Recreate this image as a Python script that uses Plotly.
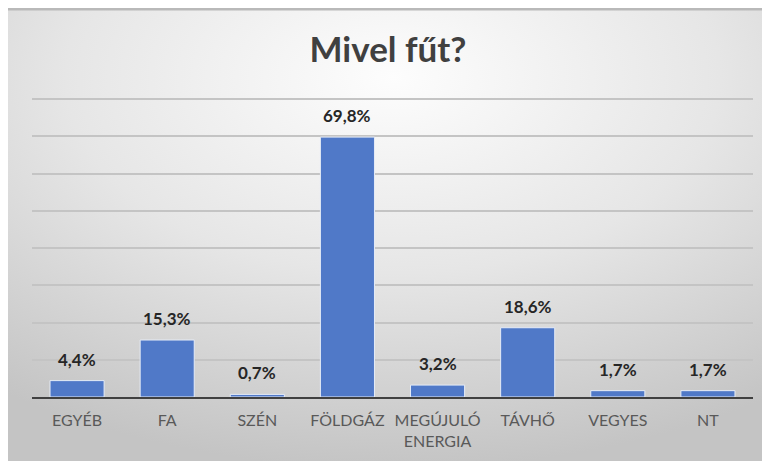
"""Mivel fűt? — heating source bar chart."""

import urllib.parse

import plotly.graph_objects as go

categories = ["EGYÉB", "FA", "SZÉN", "FÖLDGÁZ", "MEGÚJULÓ<br>ENERGIA",
              "TÁVHŐ", "VEGYES", "NT"]
values = [4.4, 15.3, 0.7, 69.8, 3.2, 18.6, 1.7, 1.7]
labels = [f"{v:.1f}".replace(".", ",") + "%" for v in values]

BAR_COLOR = "#5079c8"
FONT = "Lato, 'Open Sans', sans-serif"
W, H = 770, 461

# Excel-style radial gradient card behind the chart, drawn as an SVG image.
svg = (
    f"<svg xmlns='http://www.w3.org/2000/svg' width='{W}' height='{H}' "
    f"preserveAspectRatio='none' viewBox='0 0 {W} {H}'>"
    "<defs><radialGradient id='g' cx='50%' cy='15%' r='85%'>"
    "<stop offset='0' stop-color='#fdfdfd'/>"
    "<stop offset='0.5' stop-color='#e6e6e6'/>"
    "<stop offset='1' stop-color='#c4c4c4'/>"
    "</radialGradient></defs>"
    f"<rect width='{W}' height='{H}' fill='url(#g)'/>"
    f"<rect width='{W}' height='2.5' fill='#b9b9b9'/>"
    "</svg>"
)
bg_src = "data:image/svg+xml;charset=utf-8," + urllib.parse.quote(svg)

fig = go.Figure(go.Bar(
    x=categories, y=values,
    marker=dict(color=BAR_COLOR, line=dict(color="#e6ecf7", width=1)),
    hoverinfo="skip",
))

for cat, val, lab in zip(categories, values, labels):
    fig.add_annotation(
        x=cat, y=val, text=f"<b>{lab}</b>", showarrow=False,
        yanchor="bottom", yshift=9,
        font=dict(family=FONT, size=17, color="#262626"),
    )

# plot area in figure pixels: x 24..745, y 90..389
ml, mr, mt, mb = 24, 25, 90, 72
pw, ph = W - ml - mr, H - mt - mb
fig.add_layout_image(
    source=bg_src, xref="paper", yref="paper",
    x=-ml / pw, y=(ph + mt) / ph,
    sizex=W / pw, sizey=H / ph,
    xanchor="left", yanchor="top", sizing="stretch", layer="below",
)

fig.update_layout(
    width=W, height=H,
    margin=dict(l=ml, r=mr, t=mt, b=mb, autoexpand=False),
    paper_bgcolor="white", plot_bgcolor="rgba(0,0,0,0)",
    bargap=0.4, showlegend=False,
    title=dict(text="<b>Mivel fűt?</b>", x=(380 - ml) / pw, xref="paper",
               xanchor="center", y=1 - 42 / H, yanchor="middle",
               automargin=False,
               font=dict(family=FONT, size=35, color="#404040")),
    xaxis=dict(
        showline=True, linecolor="#404040", linewidth=2,
        ticks="", ticklabelstandoff=8, automargin=False,
        tickfont=dict(family=FONT, size=16, color="#595959"),
        fixedrange=True,
    ),
    yaxis=dict(
        range=[0, 80.3], tick0=0, dtick=10, showticklabels=False,
        automargin=False,
        showgrid=True, gridcolor="#c4c4c4", gridwidth=1.5,
        zeroline=False, fixedrange=True,
    ),
)

fig.write_html("out.html")
